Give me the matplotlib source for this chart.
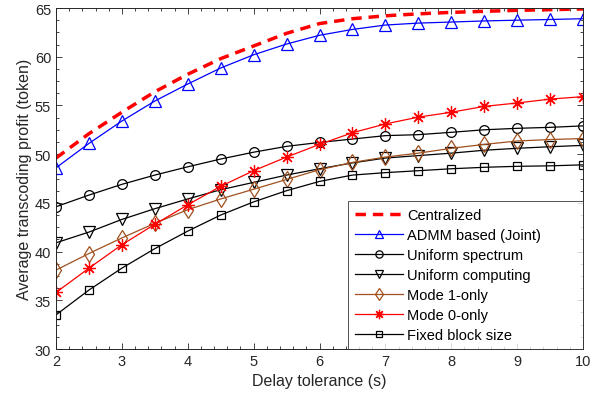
import matplotlib
matplotlib.use("Agg")
import matplotlib.pyplot as plt
from matplotlib.ticker import MultipleLocator

plt.rcParams['font.family'] = ['Liberation Sans', 'DejaVu Sans']

delay = [2, 2.5, 3, 3.5, 4, 4.5, 5, 5.5, 6, 6.5, 7, 7.5, 8, 8.5, 9, 9.5, 10]

centralized = [49.6, 52.1, 54.3, 56.4, 58.2, 59.8, 61.1, 62.4, 63.4, 63.9, 64.2, 64.4, 64.55, 64.66, 64.76, 64.83, 64.9]
admm_joint = [48.6, 51.1, 53.4, 55.45, 57.2, 58.84, 60.2, 61.3, 62.2, 62.8, 63.25, 63.45, 63.56, 63.67, 63.75, 63.82, 63.9]
uniform_spectrum = [44.6, 45.8, 46.9, 47.85, 48.7, 49.5, 50.2, 50.8, 51.2, 51.55, 51.9, 52.0, 52.24, 52.5, 52.65, 52.75, 52.9]
uniform_computing = [40.9, 42.0, 43.3, 44.4, 45.4, 46.35, 47.1, 47.85, 48.5, 49.1, 49.6, 49.85, 50.1, 50.4, 50.6, 50.76, 50.9]
mode1_only = [38.1, 39.8, 41.4, 42.9, 44.3, 45.4, 46.4, 47.4, 48.4, 49.15, 49.7, 50.1, 50.6, 51.0, 51.35, 51.5, 51.6]
mode0_only = [35.8, 38.3, 40.7, 42.8, 44.8, 46.7, 48.3, 49.7, 51.0, 52.2, 53.1, 53.8, 54.3, 54.9, 55.25, 55.65, 55.9]
fixed_block = [33.5, 36.05, 38.3, 40.3, 42.1, 43.75, 45.1, 46.25, 47.2, 47.85, 48.1, 48.3, 48.5, 48.65, 48.75, 48.8, 48.9]

labels = ["Centralized", "ADMM based (Joint)", "Uniform spectrum", "Uniform computing",
          "Mode 1-only", "Mode 0-only", "Fixed block size"]

fig = plt.figure(figsize=(6.01, 4.02), dpi=100)
ax = fig.add_axes([56/601, 1-350/402, 527/601, 341/402])

brown = '#A0501E'
ax.plot(delay, centralized, '--', color='#FF0000', lw=2.5, dashes=(3, 2), label=labels[0])
ax.plot(delay, admm_joint, '-', color='#0000FF', lw=0.9, marker='^', ms=8, mfc='none', mew=0.9, label=labels[1])
ax.plot(delay, uniform_spectrum, '-', color='black', lw=0.9, marker='o', ms=7, mfc='none', mew=0.9, label=labels[2])
ax.plot(delay, uniform_computing, '-', color='black', lw=0.9, marker='v', ms=8, mfc='none', mew=0.9, label=labels[3])
ax.plot(delay, mode1_only, '-', color=brown, lw=0.9, marker='d', ms=8, mfc='none', mew=0.9, label=labels[4])
ax.plot(delay, mode0_only, '-', color='#FF0000', lw=0.9, marker=(8, 2, 0), ms=9, mfc='none', mew=0.9, label=labels[5])
ax.plot(delay, fixed_block, '-', color='black', lw=0.9, marker='s', ms=6, mfc='none', mew=0.9, label=labels[6])

ax.set_xlim(2, 10)
ax.set_ylim(30, 65)
ax.xaxis.set_major_locator(MultipleLocator(1))
ax.xaxis.set_minor_locator(MultipleLocator(0.2))
ax.yaxis.set_major_locator(MultipleLocator(5))
ax.yaxis.set_minor_locator(MultipleLocator(1.25))
ax.tick_params(which='both', direction='in', top=True, right=True, labelsize=10.5, colors='#262626')
ax.tick_params(which='major', length=4, width=0.6)
ax.tick_params(which='minor', length=2.2, width=0.6)
for s in ax.spines.values():
    s.set_linewidth(0.7)
    s.set_color('#262626')

ax.set_xlabel("Delay tolerance (s)", fontsize=11.5, color='#262626', labelpad=4)
ax.set_ylabel("Average transcoding profit (token)", fontsize=11.5, color='#262626', labelpad=2)

leg_x0 = (348 - 56) / 527
leg_h = (350 - 204) / 341
leg = ax.legend(loc='lower left', bbox_to_anchor=(leg_x0, 0, 1 - leg_x0, leg_h), mode='expand',
                fontsize=10.5, frameon=True, fancybox=False, markerscale=0.75,
                edgecolor='#262626', borderaxespad=0, handlelength=3.3, handletextpad=0.3,
                labelspacing=0.42, borderpad=0.45)
leg.get_frame().set_linewidth(0.7)

fig.savefig("out.png", dpi=100)
